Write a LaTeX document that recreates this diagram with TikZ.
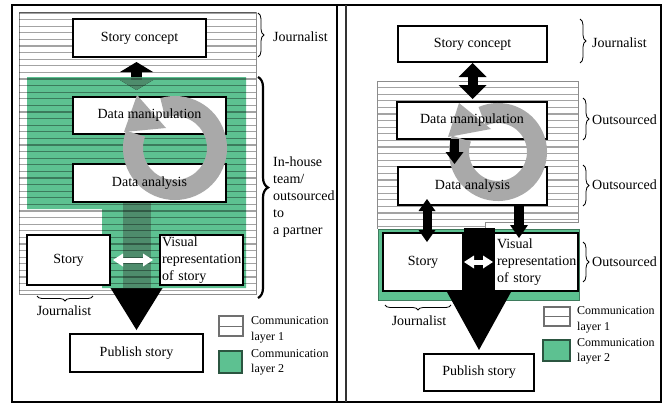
\documentclass[tikz,border=0pt]{standalone}
\usepackage{fontspec}
\setmainfont{Liberation Serif}
\usetikzlibrary{arrows.meta,decorations.pathreplacing}

\definecolor{layergreen}{HTML}{5DC191}
\definecolor{bandgreen}{HTML}{4E8C6C}
\definecolor{edgegreen}{HTML}{3E7A5C}
\definecolor{ringgray}{HTML}{A9A9A9}
\definecolor{hatchgray}{HTML}{8C8C8C}

\pgfdeclarelayer{bg}
\pgfdeclarelayer{boxes}
\pgfdeclarelayer{ring}
\pgfsetlayers{bg,boxes,ring,main}

\tikzset{
  lbl/.style={font=\fontsize{14}{17}\selectfont, inner sep=0pt},
  legtext/.style={font=\fontsize{12}{15.5}\selectfont, inner sep=0pt, align=left, anchor=west},
  box/.style={lbl, shape=rectangle, outer sep=0pt, align=center},
  leftbox/.style={box, align=left, inner ysep=0pt},
  boxline/.style={draw=black, line width=1.1pt, fill=white},
  hatch/.style={draw=black, draw opacity=0.36, line width=1.1pt},
  hatchedge/.style={draw=hatchgray, line width=1pt},
  curly/.style={decorate, decoration={brace, amplitude=#1}, line width=0.8pt},
  sarrow/.style n args={3}{line width=#1,
    arrows={-Triangle[width=#2,length=#3,line width=0pt]}},
  dblock/.style n args={3}{line width=#1,
    arrows={Triangle[width=#2,length=#3,line width=0pt]-Triangle[width=#2,length=#3,line width=0pt]}},
  warrow/.style={white, line width=5pt,
    arrows={Triangle[width=13pt,length=10pt,line width=0pt]-Triangle[width=13pt,length=10pt,line width=0pt]}},
  leghatch/.style={shape=rectangle, draw=hatchgray!80!black, line width=1.2pt, fill=white,
    path picture={\draw[hatchgray!80!black, line width=1pt]
      (path picture bounding box.west) -- (path picture bounding box.east);}},
  leggreen/.style={shape=rectangle, draw=edgegreen!70!black, line width=1.4pt, fill=layergreen},
}

\begin{document}
\begin{tikzpicture}[x=1pt,y=-1pt]
\useasboundingbox (0,0) rectangle (663,404);

% ---------- boxes of the first workflow ----------
\node[box, minimum width=133pt, minimum height=38pt] (sc)  at (139.5,38)  {Story concept};
\node[box, minimum width=153pt, minimum height=37pt] (dm)  at (149.5,115.5) {Data manipulation};
\node[box, minimum width=153pt, minimum height=38pt] (da)  at (149.5,183) {Data analysis};
\node[box, minimum width=83pt,  minimum height=50pt] (st)  at (68.5,260)  {Story};
\node[leftbox, text width=79pt, inner xsep=2pt, minimum height=50pt] (vis) at (201.5,260)
  {Visual\\representation\\of story};
\node[box, minimum width=133pt, minimum height=38pt] (pub) at (136.5,353) {Publish story};

% ---------- boxes of the second workflow ----------
\node[box, minimum width=149pt, minimum height=36pt] (sc2)  at (472.5,44)  {Story concept};
\node[box, minimum width=150pt, minimum height=37pt] (dm2)  at (472,120.5) {Data manipulation};
\node[box, minimum width=149pt, minimum height=38pt] (da2)  at (472.5,186) {Data analysis};
\node[box, minimum width=80pt,  minimum height=58pt] (st2)  at (423,262)   {Story};
\node[leftbox, text width=78pt, inner xsep=3pt, minimum height=58pt] (vis2) at (536,262)
  {Visual\\representation\\of story};
\node[box, minimum width=110pt, minimum height=37pt] (pub2) at (479,372.5) {Publish story};

% ---------- role labels ----------
\node[lbl, anchor=west] (jl1) at (273,37) {Journalist};
\node[lbl, anchor=west, align=left] (team) at (273,197)
  {In-house\\team/\\outsourced\\to\\a partner};
\node[lbl] (jl2) at (64,311) {Journalist};

\node[lbl, anchor=west] (jr1) at (592,43)  {Journalist};
\node[lbl, anchor=west] (or1) at (592,120) {Outsourced};
\node[lbl, anchor=west] (or2) at (592,185) {Outsourced};
\node[lbl, anchor=west] (or3) at (592,262) {Outsourced};
\node[lbl] (jr2) at (419,321) {Journalist};

% ---------- legends ----------
\node[leghatch, minimum width=24pt, minimum height=20pt] (lh1) at (231,326) {};
\node[legtext] (lt1) at (251,330) {Communication\\layer 1};
\node[leggreen, minimum width=23pt, minimum height=22pt] (lg1) at (230.5,362) {};
\node[legtext] (lt2) at (251,362.5) {Communication\\layer 2};

\node[leghatch, minimum width=26pt, minimum height=19pt] (lh2) at (557,316.5) {};
\node[legtext] (lt3) at (577,320) {Communication\\layer 1};
\node[leggreen, minimum width=27pt, minimum height=21pt] (lg2) at (556.5,350.5) {};
\node[legtext] (lt4) at (577,351.5) {Communication\\layer 2};

% ---------- braces ----------
\draw[curly=6pt] (258,13) -- (258,57);
\draw[curly=10pt, line width=2.2pt] (258,77) -- (258,298);
\draw[curly=5pt] (93,296) -- (37,296);

\draw[curly=6pt] (580,19) -- (580,63);
\draw[curly=6pt] (583,98) -- (583,140);
\draw[curly=6pt] (583,165) -- (583,206);
\draw[curly=6pt] (583,242) -- (583,282);
\draw[curly=5pt] (451,305) -- (385,305);

% ---------- arrows of the second workflow drawn over boxes ----------
\draw[dblock={10pt}{28pt}{14pt}, shorten <=1pt, shorten >=3pt] (sc2.south) -- (dm2.north -| sc2.south);
\coordinate (m1) at ([xshift=-17.5pt]dm2.south);
\draw[sarrow={9pt}{18pt}{12pt}, shorten >=3pt] (m1) -- (m1 |- da2.north);
\coordinate (m2) at ([xshift=-45.5pt]da2.south);
\draw[dblock={9pt}{17pt}{12pt}, shorten <=-6pt, shorten >=-9pt] (m2) -- (m2 |- st2.north);
\coordinate (m3) at ([xshift=46.5pt]da2.south);
\draw[sarrow={10pt}{18pt}{13pt}, shorten >=-5pt] (m3) -- (m3 |- vis2.north);

\draw[warrow, shorten <=3pt, shorten >=7pt] (st.east) -- (vis.west);
\draw[warrow, shorten <=1pt, shorten >=1pt] (st2.east) -- (vis2.west);

% ---------- background: frames, layers, fat arrows ----------
\begin{pgfonlayer}{bg}
  \draw[line width=1.6pt] (12,5) rectangle (661,402);
  \draw[line width=1.6pt] (337,5) -- (337,402);
  \draw[line width=1.2pt, black!80] (346,5) -- (346,402);

  % first workflow: communication layer 1
  \fill[white] (19,13) rectangle (256,294);
  \draw[hatchedge] (19,13) rectangle (256,294);
  % communication layer 2
  \fill[layergreen] (27,77) -- (246,77) -- (246,288) -- (102,288) -- (102,209) -- (27,209) -- cycle;

  \draw[dblock={11pt}{33pt}{10pt}, shorten <=5pt, shorten >=7pt] (sc.south -| pub.north) -- (dm.north -| pub.north);
  \draw[sarrow={28pt}{52pt}{42pt}, shorten >=4pt] (da.south -| pub.north) -- (pub.north);
  \begin{scope}
    \clip (27,77) -- (246,77) -- (246,288) -- (102,288) -- (102,209) -- (27,209) -- cycle;
    \draw[bandgreen, dblock={11pt}{33pt}{10pt}, shorten <=5pt, shorten >=7pt] (sc.south -| pub.north) -- (dm.north -| pub.north);
    \draw[bandgreen, sarrow={28pt}{52pt}{42pt}, shorten >=4pt] (da.south -| pub.north) -- (pub.north);
  \end{scope}
  \foreach \k in {0,...,42} \draw[hatch] (19,{13+6.6*\k}) -- (256,{13+6.6*\k});

  % second workflow: communication layer 1
  \fill[white] (377,81) -- (578,81) -- (578,222) -- (485,222) -- (485,227) -- (377,227) -- cycle;
  \begin{scope}
    \clip (377,81) -- (578,81) -- (578,222) -- (485,222) -- (485,227) -- (377,227) -- cycle;
    \foreach \k in {0,...,22} \draw[hatch] (377,{81+6.6*\k}) -- (578,{81+6.6*\k});
  \end{scope}
  \draw[hatchedge] (377,81) -- (578,81) -- (578,222) -- (485,222) -- (485,229);
  \draw[hatchedge] (377,229) -- (377,81);
  % communication layer 2
  \filldraw[fill=layergreen, draw=edgegreen, line width=1pt] (378,229) rectangle (579,300);

  \coordinate (g2) at (479,228);
  \draw[sarrow={31pt}{64pt}{58pt}, shorten >=4pt] (g2) -- (pub2.north);
\end{pgfonlayer}

% ---------- white box faces ----------
\begin{pgfonlayer}{boxes}
  \foreach \n in {sc,dm,da,st,vis,pub,sc2,dm2,da2,st2,vis2,pub2}
    \draw[boxline] (\n.south west) rectangle (\n.north east);
\end{pgfonlayer}

% ---------- iteration rings ----------
\begin{pgfonlayer}{ring}
  \coordinate (rl) at (175,148);
  \draw[ringgray, line width=20pt] (rl) ++(253:42) arc[start angle=253, end angle=560, radius=42];
  \fill[ringgray] (124,132) -- (166,128) -- (137,95) -- cycle;

  \coordinate (rr) at (498,152);
  \draw[ringgray, line width=20pt] (rr) ++(246:39) arc[start angle=246, end angle=560, radius=39];
  \fill[ringgray] (448,137) -- (491,129) -- (459,103) -- cycle;
\end{pgfonlayer}
\end{tikzpicture}
\end{document}
